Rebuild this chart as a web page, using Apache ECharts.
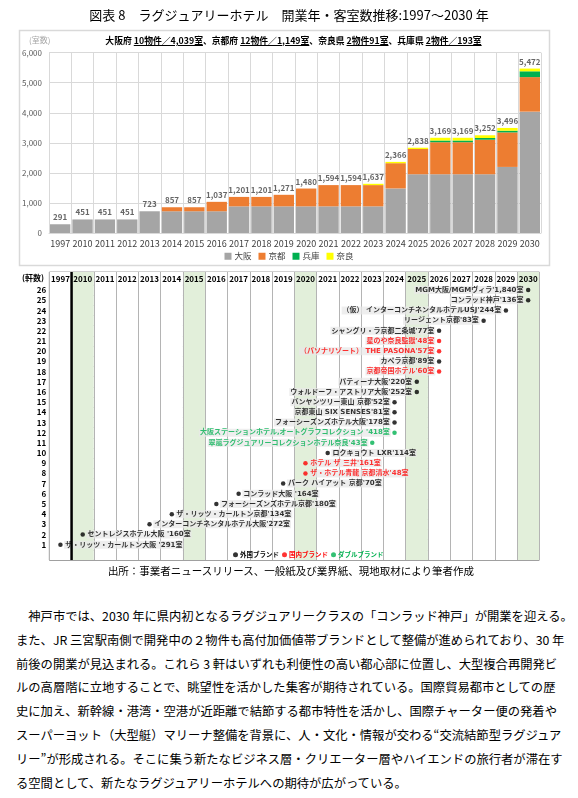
<!DOCTYPE html>
<html lang="ja">
<head>
<meta charset="utf-8">
<title>ラグジュアリーホテル 開業年・客室数推移</title>
<script src="https://cdn.jsdelivr.net/npm/echarts@6.0.0/dist/echarts.min.js"></script>
<style>
  html, body { margin: 0; padding: 0; background: #fff; }
  body { width: 578px; height: 798px; position: relative; overflow: hidden;
         font-family: "Noto Sans CJK JP", "Noto Sans", sans-serif; color: #000; }
  #main { position: absolute; left: 0; top: 0; width: 578px; height: 575px; }
  #sub { position: absolute; left: 0; top: 35px; width: 587px; text-align: center;
         font-size: 8.8px; font-weight: bold; line-height: 12px; white-space: nowrap; }
  #sub u { text-underline-offset: 1px; }
  #src { position: absolute; left: 0; top: 564px; width: 582px; text-align: center;
         font-size: 10.5px; line-height: 14px; }
  #txt { position: absolute; left: 16px; top: 605px; font-size: 12.3px; line-height: 23.8px; }
  #txt div { white-space: nowrap; }
</style>
</head>
<body>
<div id="main"></div>
<div id="sub">大阪府 <u>10物件／4,039室</u>、京都府 <u>12物件／1,149室</u>、奈良県 <u>2物件91室</u>、兵庫県 <u>2物件／193室</u></div>
<div id="src">出所：事業者ニュースリリース、一般紙及び業界紙、現地取材により筆者作成</div>
<div id="txt">
  <div>　神戸市では、2030 年に県内初となるラグジュアリークラスの「コンラッド神戸」が開業を迎える。</div>
  <div>また、JR 三宮駅南側で開発中の２物件も高付加価値帯ブランドとして整備が進められており、30 年</div>
  <div>前後の開業が見込まれる。これら 3 軒はいずれも利便性の高い都心部に位置し、大型複合再開発ビ</div>
  <div>ルの高層階に立地することで、眺望性を活かした集客が期待されている。国際貿易都市としての歴</div>
  <div>史に加え、新幹線・港湾・空港が近距離で結節する都市特性を活かし、国際チャーター便の発着や</div>
  <div>スーパーヨット（大型艇）マリーナ整備を背景に、人・文化・情報が交わる“交流結節型ラグジュア</div>
  <div>リー”が形成される。そこに集う新たなビジネス層・クリエーター層やハイエンドの旅行者が滞在す</div>
  <div>る空間として、新たなラグジュアリーホテルへの期待が広がっている。</div>
</div>
<script>
// 開業年（横軸）
var years = ['1997', '2010', '2011', '2012', '2013', '2014', '2015', '2016', '2017', '2018', '2019',
             '2020', '2021', '2022', '2023', '2024', '2025', '2026', '2027', '2028', '2029', '2030'];

// 府県別の累計客室数
var osaka = [291, 451, 451, 451, 723, 723, 723, 723, 887, 887, 887, 887, 887, 887, 887, 1483, 1955, 1955, 1955, 1955, 2199, 4039];
var kyoto = [0, 0, 0, 0, 0, 134, 134, 314, 314, 314, 384, 593, 707, 707, 707, 840, 840, 1066, 1066, 1149, 1149, 1149];
var hyogo = [0, 0, 0, 0, 0, 0, 0, 0, 0, 0, 0, 0, 0, 0, 0, 0, 0, 57, 57, 57, 57, 193];
var nara  = [0, 0, 0, 0, 0, 0, 0, 0, 0, 0, 0, 0, 0, 0, 43, 43, 43, 91, 91, 91, 91, 91];
// 棒の上の合計
var totals = [291, 451, 451, 451, 723, 857, 857, 1037, 1201, 1201, 1271, 1480, 1594, 1594, 1637, 2366, 2838, 3169, 3169, 3252, 3496, 5472];

// 下の表：行番号（一番下は凡例の行）
var rowLabels = ['', '1', '2', '3', '4', '5', '6', '7', '8', '9', '10', '11', '12', '13',
                 '14', '15', '16', '17', '18', '19', '20', '21', '22', '23', '24', '25', '26'];

// ホテル一覧（1軒目から順に）
var hotelNames = [
  'ザ・リッツ・カールトン大阪 ', 'セントレジスホテル大阪 ', 'インターコンチネンタルホテル大阪',
  'ザ・リッツ・カールトン京都', 'フォーシーズンズホテル京都', 'コンラッド大阪 ',
  'パーク ハイアット 京都', 'ザ・ホテル青龍 京都清水', 'ホテル ザ 三井', 'ロクキョウト LXR',
  '翠嵐ラグジュアリーコレクションホテル奈良', '大阪ステーションホテル,オートグラフコレクション ',
  'フォーシーズンズホテル大阪', '京都東山 SIX SENSES', 'バンヤンツリー東山 京都',
  'ウォルドーフ・アストリア大阪', 'パティーナ大阪', '京都帝国ホテル', 'カペラ京都',
  '（パソナリゾート） THE PASONA', '星のや奈良監獄', 'シャングリ・ラ京都二条城', 'リージェント京都',
  '（仮） インターコンチネンタルホテルUSJ', 'コンラッド神戸', 'MGM大阪/MGMヴィラ'
];
var hotelRooms = [291, 160, 272, 134, 180, 164, 70, 48, 161, 114, 43, 418, 178, 81, 52,
                  252, 220, 60, 89, 57, 48, 77, 83, 244, 136, 1840];
var hotelYears = ['1997', '2010', '2013', '2014', '2016', '2017', '2019', '2020', '2020', '2021',
                  '2023', '2024', '2024', '2024', '2024', '2025', '2025', '2026', '2026', '2026',
                  '2026', '2026', '2028', '2029', '2030', '2030'];
var hotelBrands = ['外国ブランド', '外国ブランド', '外国ブランド', '外国ブランド', '外国ブランド',
                   '外国ブランド', '外国ブランド', '国内ブランド', '国内ブランド', '外国ブランド',
                   'ダブルブランド', 'ダブルブランド', '外国ブランド', '外国ブランド', '外国ブランド',
                   '外国ブランド', '外国ブランド', '国内ブランド', '外国ブランド', '国内ブランド',
                   '国内ブランド', '外国ブランド', '外国ブランド', '外国ブランド', '外国ブランド',
                   '外国ブランド'];
var brandList = ['外国ブランド', '国内ブランド', 'ダブルブランド'];
var brandColors = { '外国ブランド': '#000000', '国内ブランド': '#ff0000', 'ダブルブランド': '#00b050' };

// 表のレイアウト
var headTop = 272, bodyTop = 285, bodyBottom = 560;
var greenCols = ['#ffffff', '#e2efda', '#ffffff', '#ffffff', '#ffffff']; // 5年ごとの列を塗る
var cjk = '"Noto Sans CJK JP", "Noto Sans", sans-serif';

var fmt = function (v) { return Number(v).toLocaleString('en-US'); };

function barSeries(name, data, color) {
  return {
    name: name, type: 'bar', stack: 'rooms', xAxisIndex: 0, yAxisIndex: 0,
    barCategoryGap: '9%', itemStyle: { color: color }, data: data
  };
}

var brandSeries = brandList.map(function (b) {
  var data = [];
  hotelNames.forEach(function (n, i) {
    if (hotelBrands[i] !== b) return;
    data.push({
      name: n + "'" + fmt(hotelRooms[i]) + '室',
      value: [hotelYears[i], rowLabels[i + 1]],
      label: { position: i < 10 ? 'right' : 'left' }
    });
  });
  return {
    name: b, type: 'scatter', xAxisIndex: 1, yAxisIndex: 1,
    symbol: 'circle', symbolSize: 4.5, silent: true,
    itemStyle: { color: brandColors[b] },
    label: {
      show: true, formatter: '{b}', color: brandColors[b], fontSize: 7, fontWeight: 'bold',
      fontFamily: '"DejaVu Sans", ' + cjk,
      distance: 1.5, backgroundColor: 'rgba(232,232,232,0.92)', padding: [1, 1, 0, 1]
    },
    data: data
  };
});

var chart = echarts.init(document.getElementById('main'));
var option = {
  animation: false,
  textStyle: { fontFamily: cjk },
  title: [
    { text: '図表 8　ラグジュアリーホテル　開業年・客室数推移:1997～2030 年', left: 'center', top: 9, padding: 0,
      textStyle: { fontSize: 13, fontWeight: 'normal', color: '#000' } },
    { text: '(室数)', left: 29, top: 36, padding: 0,
      textStyle: { fontSize: 8, fontWeight: 'normal', color: '#a6a6a6' } },
    { text: '(軒数)', left: 22, top: 274, padding: 0,
      textStyle: { fontSize: 8, fontWeight: 'bold', color: '#000' } }
  ],
  legend: [
    { data: ['大阪', '京都', '兵庫', '奈良'], left: 'center', top: 252, icon: 'rect',
      itemWidth: 7, itemHeight: 7, itemGap: 7, selectedMode: false, padding: 0,
      textStyle: { fontSize: 8.5, color: '#404040', padding: [0, 0, 0, -2] } },
    { data: brandList.map(function (b) { return { name: b, textStyle: { color: brandColors[b] } }; }),
      left: 233, top: 551.5, icon: 'circle', itemWidth: 5, itemHeight: 5, itemGap: 3,
      selectedMode: false, padding: 0,
      textStyle: { fontSize: 6.5, fontWeight: 'bold', padding: [0, 0, 0, -3] } }
  ],
  grid: [
    { left: 49, top: 52.7, width: 492, height: 180.3, outerBoundsMode: 'none' },
    { left: 49.3, top: bodyTop, width: 490, height: bodyBottom - bodyTop, show: true,
      borderColor: '#a0a0a0', borderWidth: 1, backgroundColor: '#fff', outerBoundsMode: 'none' },
    { left: 49.3, top: headTop, width: 490, height: bodyTop - headTop, show: true,
      borderColor: '#a0a0a0', borderWidth: 1, backgroundColor: '#fff', outerBoundsMode: 'none' }
  ],
  xAxis: [
    { gridIndex: 0, type: 'category', data: years,
      axisTick: { show: false }, axisLine: { lineStyle: { color: '#d9d9d9' } },
      axisLabel: { interval: 0, fontSize: 9, color: '#404040', margin: 6 },
      splitLine: { show: true, interval: 0, lineStyle: { color: '#d9d9d9' } } },
    { gridIndex: 1, type: 'category', data: years,
      axisTick: { show: false }, axisLine: { show: false }, axisLabel: { show: false },
      splitLine: { show: true, interval: 0, lineStyle: { color: '#b4b4b4' } },
      splitArea: { show: true, interval: 0, areaStyle: { color: greenCols } } },
    { gridIndex: 2, type: 'category', data: years, position: 'top',
      axisTick: { show: false }, axisLine: { show: false },
      axisLabel: { interval: 0, inside: true, margin: 2.5, fontSize: 8, fontWeight: 'bold', color: '#000' },
      splitLine: { show: true, interval: 0, lineStyle: { color: '#b4b4b4' } },
      splitArea: { show: true, interval: 0, areaStyle: { color: greenCols } } }
  ],
  yAxis: [
    { gridIndex: 0, type: 'value', min: 0, max: 6000, interval: 1000,
      axisLine: { show: false }, axisTick: { show: false },
      axisLabel: { fontSize: 8, color: '#595959', margin: 7, formatter: fmt },
      splitLine: { lineStyle: { color: '#d9d9d9' } } },
    { gridIndex: 1, type: 'category', data: rowLabels,
      axisTick: { show: false }, axisLine: { show: false },
      axisLabel: { interval: 0, fontSize: 8, fontWeight: 'bold', color: '#000', margin: 3 },
      splitLine: { show: true, interval: 0, lineStyle: { color: '#a0a0a0' } } },
    { gridIndex: 2, type: 'value', min: 0, max: 1, show: false }
  ],
  graphic: [
    { id: 'box', type: 'rect', silent: true, z: -1,
      shape: { x: 19.5, y: 30.5, width: 530, height: 235 },
      style: { fill: 'none', stroke: '#d9d9d9', lineWidth: 1.5 } }
  ],
  series: [
    barSeries('大阪', osaka, '#a5a5a5'),
    barSeries('京都', kyoto, '#ed7d31'),
    barSeries('兵庫', hyogo, '#00b050'),
    barSeries('奈良', nara, '#ffff00'),
    { name: '合計', type: 'scatter', xAxisIndex: 0, yAxisIndex: 0, data: totals,
      symbolSize: 0.1, silent: true, itemStyle: { color: 'rgba(0,0,0,0)' },
      label: { show: true, position: 'top', distance: 3, formatter: function (p) { return fmt(p.value); },
               fontSize: 8, fontWeight: 'bold', color: '#404040' } }
  ].concat(brandSeries)
};
chart.setOption(option);

// 1997年と2010年の間の太線（軸の目盛りから位置を出す）
var xa = chart.convertToPixel({ xAxisIndex: 1 }, years[0]);
var xb = chart.convertToPixel({ xAxisIndex: 1 }, years[1]);
var xm = (xa + xb) / 2;
chart.setOption({
  graphic: [
    { id: 'divider', type: 'line', silent: true, z: 100,
      shape: { x1: xm, y1: headTop, x2: xm, y2: bodyBottom },
      style: { stroke: '#000', lineWidth: 2.5 } }
  ]
});
</script>
</body>
</html>
